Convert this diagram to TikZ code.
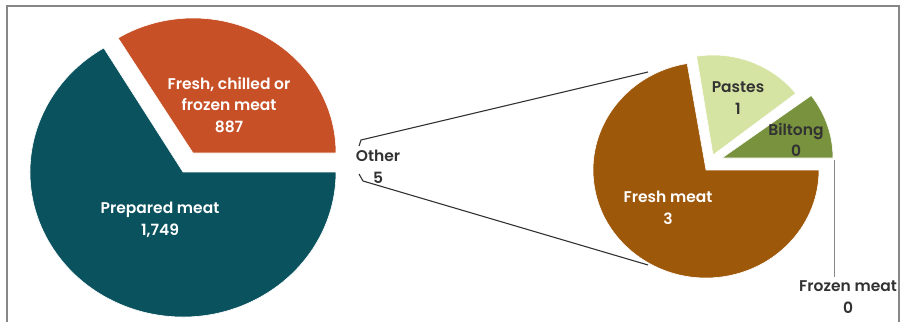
\documentclass[tikz,border=0pt]{standalone}
\usepackage{fontspec}
\setmainfont{Poppins}[UprightFont={* SemiBold}, BoldFont={* Bold}]
\usetikzlibrary{calc}
\definecolor{cteal}{RGB}{10,82,94}
\definecolor{corange}{RGB}{199,80,39}
\definecolor{cbrown}{RGB}{158,88,10}
\definecolor{cpaste}{RGB}{214,228,163}
\definecolor{cbilt}{RGB}{120,146,62}
\definecolor{cdark}{RGB}{50,50,50}
\definecolor{cframe}{RGB}{135,135,135}
\begin{document}
\begin{tikzpicture}[x=1pt,y=1pt,
  lbl/.style={align=center, font=\fontsize{15.5}{21.5}\selectfont, inner sep=0pt},
  wlbl/.style={lbl, text=white},
  dlbl/.style={lbl, text=cdark},
  slice/.style={draw=white, line width=0.6pt},
  leader/.style={draw=cdark, line width=1.1pt},
  frame/.style={draw=cframe, line width=1.6pt}]
\useasboundingbox (0,0) rectangle (904,322);
\draw[frame] (7,0) -- (7,316) -- (899,316) -- (899,0);

% left pie
\coordinate (C1) at (183,150);
\coordinate (C2) at (193,169);
\fill[cteal, slice] (C1) -- ++(121.2:153 and 145) arc[start angle=121.2, end angle=360, x radius=153, y radius=145] -- cycle;
\fill[corange, slice] (C2) -- ++(0:143 and 135) arc[start angle=0, end angle=121.6, x radius=143, y radius=135] -- cycle;

% right pie
\coordinate (C3) at (706,152);
\coordinate (C4) at (713,167);
\coordinate (C5) at (722,164);
\fill[cbrown, slice] (C3) -- ++(99.6:113 and 108) arc[start angle=99.6, end angle=360, x radius=113, y radius=108] -- cycle;
\fill[cpaste, slice] (C4) -- ++(38:105 and 100) arc[start angle=38, end angle=99, x radius=105, y radius=100] -- cycle;
\fill[cbilt, slice] (C5) -- ++(0:111 and 105) arc[start angle=0, end angle=36.5, x radius=111, y radius=105] -- cycle;

% leader lines
\coordinate (o1) at (359,176);
\coordinate (o2) at (361,182);
\coordinate (o3) at (648,250);
\coordinate (o4) at (359,148);
\coordinate (o5) at (363,141);
\coordinate (o6) at (648,57);
\draw[leader] (o1) -- (o2) -- (o3);
\draw[leader] (o4) -- (o5) -- (o6);
\coordinate (f1) at (834,162);
\coordinate (f2) at (834,45);
\draw[draw=cframe, line width=1pt] (f1) -- (f2);

% labels
\node[wlbl] (fresh) at (229,217) {Fresh, chilled or\\frozen meat\\887};
\node[wlbl] (prep) at (160,102) {Prepared meat\\1,749};
\node[dlbl] (other) at (378,155) {Other\\5};
\node[dlbl] (pastes) at (738,224) {Pastes\\1};
\node[dlbl] (biltong) at (796,182) {Biltong\\0};
\node[wlbl] (freshm) at (668,114) {Fresh meat\\3};
\node[dlbl] (frozen) at (848,25) {Frozen meat\\0};
\end{tikzpicture}
\end{document}
